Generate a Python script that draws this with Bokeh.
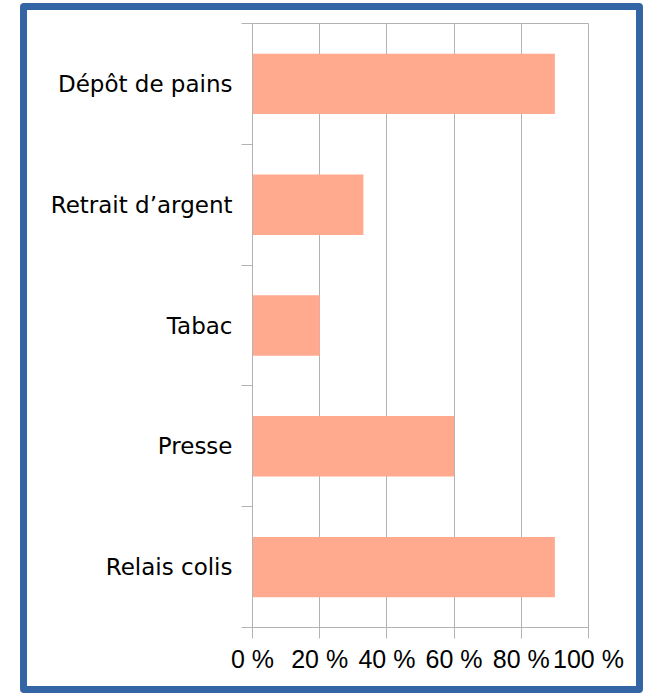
from bokeh.plotting import figure
from bokeh.models import FixedTicker, Range1d
from bokeh.embed import file_html
from bokeh.resources import INLINE

categories = ["Relais colis", "Presse", "Tabac", "Retrait d\u2019argent", "Dépôt de pains"]
values = [90, 60, 20, 33, 90]
x_ticks = [0, 20, 40, 60, 80, 100]
x_tick_labels = ["0 %", "20 %", "40 %", "60 %", "80 %", "100 %"]

ypos = [i + 0.5 for i in range(len(categories))]

p = figure(width=623, height=690, output_backend="svg", toolbar_location=None,
           x_range=Range1d(0, 100), y_range=Range1d(0, len(categories)),
           min_border_left=225, min_border_right=62, min_border_top=13, min_border_bottom=73,
           styles={"border": "7px solid #3465a4", "border-radius": "4px", "overflow": "hidden",
                   "position": "relative", "top": "3px", "left": "20px"})

p.hbar(y=ypos, right=values, left=0, height=0.5, color="#ffa98f", line_color=None)

grey = "#b3b3b3"
p.outline_line_color = grey
p.ygrid.grid_line_color = None
p.xgrid.grid_line_color = grey
p.xgrid.ticker = FixedTicker(ticks=x_ticks)

p.xaxis.ticker = FixedTicker(ticks=x_ticks)
p.xaxis.major_label_overrides = {t: l for t, l in zip(x_ticks, x_tick_labels)}
p.xaxis.axis_line_color = grey
p.xaxis.major_tick_line_color = grey
p.xaxis.major_tick_out = 11
p.xaxis.major_tick_in = 0
p.xaxis.minor_tick_line_color = None
p.xaxis.major_label_text_font = "Liberation Sans"
p.xaxis.major_label_text_font_size = "25px"
p.xaxis.major_label_text_color = "black"
p.xaxis.major_label_standoff = 6

p.yaxis.ticker = FixedTicker(ticks=ypos, minor_ticks=list(range(len(categories) + 1)))
p.yaxis.major_label_overrides = {y: c for y, c in zip(ypos, categories)}
p.yaxis.axis_line_color = grey
p.yaxis.major_tick_line_color = None
p.yaxis.major_tick_out = 0
p.yaxis.major_tick_in = 0
p.yaxis.minor_tick_line_color = grey
p.yaxis.minor_tick_out = 11
p.yaxis.minor_tick_in = 0
p.yaxis.major_label_text_font = "DejaVu Sans"
p.yaxis.major_label_text_font_size = "23px"
p.yaxis.major_label_text_color = "black"
p.yaxis.major_label_standoff = 9

open("out.html", "w").write(file_html(p, INLINE))
